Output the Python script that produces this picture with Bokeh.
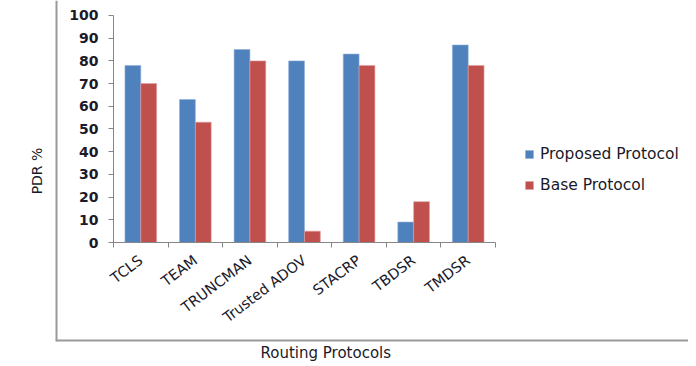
import math
from bokeh.plotting import figure
from bokeh.models import (Range1d, LinearAxis, FixedTicker, Legend, LegendItem,
                          Title, Span, ColumnDataSource)
from bokeh.transform import dodge
from bokeh.embed import file_html
from bokeh.resources import INLINE

categories = ["TCLS", "TEAM", "TRUNCMAN", "Trusted ADOV", "STACRP", "TBDSR", "TMDSR"]
proposed = [78, 63, 85, 80, 83, 9, 87]
base = [70, 53, 80, 5, 78, 18, 78]
y_ticks = list(range(0, 101, 10))
series_names = ["Proposed Protocol", "Base Protocol"]
colors = ["#4F81BD", "#C0504D"]
x_title = "Routing Protocols"
y_title = "PDR %"

FONT = "DejaVu Sans"
AXIS_COL = "#868686"
TXT = "#1a1a2a"

n = len(categories)
centers = [i + 0.5 for i in range(n)]
bounds_ticks = list(range(n + 1))
src = ColumnDataSource(dict(xc=centers, cat=categories, proposed=proposed, base=base))

# chart area: plot region spans the full chart-area, axes are placed inside it
p = figure(frame_width=633, frame_height=341,
           x_range=Range1d(-1.063, n + 3.537),
           y_range=Range1d(-43.6, 106.6),
           output_backend="svg", toolbar_location=None,
           min_border=0, min_border_left=55, min_border_right=0,
           min_border_top=0, min_border_bottom=17,
           x_axis_type=None, y_axis_type=None)
p.outline_line_color = None
p.background_fill_color = "white"
p.border_fill_color = "white"

r1 = p.vbar(x=dodge("xc", -0.145), top="proposed", width=0.29, source=src,
            fill_color=colors[0], line_color="#8FB0DA", line_width=0.6)
r2 = p.vbar(x=dodge("xc", 0.145), top="base", width=0.29, source=src,
            fill_color=colors[1], line_color="#E0A09E", line_width=0.6)

# y axis, fixed at the left edge of the categories
yax = LinearAxis(ticker=FixedTicker(ticks=y_ticks), fixed_location=0, bounds=(0, 100),
                 minor_tick_line_color=None, major_tick_in=0, major_tick_out=5,
                 axis_line_color=AXIS_COL, major_tick_line_color=AXIS_COL,
                 major_label_text_font=FONT, major_label_text_font_size="14px",
                 major_label_text_font_style="bold", major_label_text_color=TXT,
                 major_label_standoff=10)
p.add_layout(yax, "left")

# x axis line + ticks on category boundaries (no labels)
tick_axis = LinearAxis(ticker=FixedTicker(ticks=bounds_ticks), fixed_location=0,
                       bounds=(0, n),
                       major_label_overrides={t: "" for t in bounds_ticks},
                       major_label_standoff=0, major_tick_in=0, major_tick_out=5,
                       minor_tick_line_color=None,
                       axis_line_color=AXIS_COL, major_tick_line_color=AXIS_COL)
p.add_layout(tick_axis, "below")

# category labels at centers
lab_axis = LinearAxis(ticker=FixedTicker(ticks=centers), fixed_location=0,
                      major_label_overrides={c: s for c, s in zip(centers, categories)},
                      axis_line_color=None, major_tick_line_color=None,
                      minor_tick_line_color=None, major_tick_in=0, major_tick_out=0,
                      major_label_orientation=0.65, major_label_text_font=FONT,
                      major_label_text_font_size="14.5px", major_label_text_color=TXT,
                      major_label_standoff=16)
p.add_layout(lab_axis, "below")

# chart-area border (left and bottom edges)
p.add_layout(Span(location=p.x_range.start, dimension="height",
                  line_color="#9a9a9a", line_width=4))
p.add_layout(Span(location=p.y_range.start, dimension="width",
                  line_color="#9a9a9a", line_width=4))

legend = Legend(items=[LegendItem(label=series_names[0], renderers=[r1]),
                       LegendItem(label=series_names[1], renderers=[r2])],
                location=(469, 147), glyph_width=10, glyph_height=10,
                label_standoff=6, spacing=13, padding=0, margin=0,
                label_height=10, border_line_color=None,
                background_fill_alpha=0,
                label_text_font=FONT, label_text_font_size="15.5px",
                label_text_color=TXT)
p.add_layout(legend)

p.add_layout(Title(text=y_title, align="center", standoff=22, text_font=FONT,
                   text_font_size="14px", text_font_style="normal",
                   text_color=TXT), "left")
p.add_layout(Title(text=x_title, align="left", offset=205, standoff=0, text_font=FONT,
                   text_font_size="15px", text_font_style="normal",
                   text_color=TXT), "below")

open("out.html", "w").write(file_html(p, INLINE))
